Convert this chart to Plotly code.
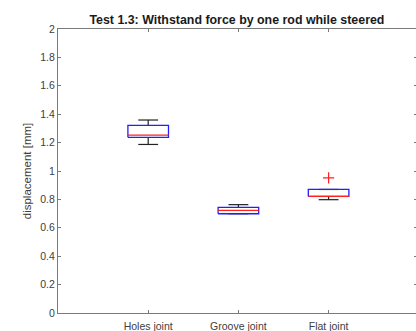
import plotly.graph_objects as go

# Joint types and their box statistics (displacement in mm)
categories = ["Holes joint", "Groove joint", "Flat joint"]
lower_whisker = [1.187, 0.699, 0.798]
q1 = [1.237, 0.699, 0.821]
median = [1.252, 0.723, 0.821]
q3 = [1.321, 0.744, 0.870]
upper_whisker = [1.359, 0.763, 0.870]
outlier_pos = [3]
outlier_val = [0.951]

y_ticks = [0, 0.2, 0.4, 0.6, 0.8, 1, 1.2, 1.4, 1.6, 1.8, 2]

BOX_HALF = 0.225
CAP_HALF = 0.11
AXIS_GRAY = "#7a7a7a"
TEXT_GRAY = "#404040"

fig = go.Figure()

for i in range(len(categories)):
    x = i + 1
    # whiskers (drawn first so the box sits on top)
    fig.add_trace(go.Scatter(
        x=[x, x, None, x, x],
        y=[q3[i], upper_whisker[i], None, lower_whisker[i], q1[i]],
        mode="lines", line=dict(color="#222222", width=1.2),
        hoverinfo="skip", showlegend=False))
    # whisker caps
    fig.add_trace(go.Scatter(
        x=[x - CAP_HALF, x + CAP_HALF, None, x - CAP_HALF, x + CAP_HALF],
        y=[upper_whisker[i], upper_whisker[i], None,
           lower_whisker[i], lower_whisker[i]],
        mode="lines", line=dict(color="#222222", width=1.2),
        hoverinfo="skip", showlegend=False))
    # box
    fig.add_trace(go.Scatter(
        x=[x - BOX_HALF, x + BOX_HALF, x + BOX_HALF, x - BOX_HALF, x - BOX_HALF],
        y=[q1[i], q1[i], q3[i], q3[i], q1[i]],
        mode="lines", line=dict(color="#1f1fff", width=1.3),
        hoverinfo="skip", showlegend=False))
    # median
    fig.add_trace(go.Scatter(
        x=[x - BOX_HALF, x + BOX_HALF],
        y=[median[i], median[i]],
        mode="lines", line=dict(color="#ff2020", width=1.3),
        hoverinfo="skip", showlegend=False))

# outliers
fig.add_trace(go.Scatter(
    x=outlier_pos, y=outlier_val, mode="markers",
    marker=dict(symbol="cross-thin", size=8,
                line=dict(color="#ff2020", width=1.2)),
    hoverinfo="skip", showlegend=False))

font_family = "Liberation Sans, Arial, sans-serif"

fig.update_layout(
    width=416, height=331,
    margin=dict(l=58, r=0, t=29, b=18),
    paper_bgcolor="white", plot_bgcolor="white",
    font=dict(family=font_family, size=10.5, color=TEXT_GRAY),
    title=dict(text="<b>Test 1.3: Withstand force by one rod while steered</b>",
               x=0.5695, xanchor="center", y=0.94, yanchor="middle",
               font=dict(size=12.4, color="#1a1a1a")),
    xaxis=dict(
        range=[0, 3.969],
        tickmode="array", tickvals=[1, 2, 3], ticktext=categories,
        ticks="inside", ticklen=3, tickcolor=AXIS_GRAY,
        ticklabelstandoff=3,
        showline=True, linecolor=AXIS_GRAY, linewidth=1,
        mirror="ticks", showgrid=False, zeroline=False,
    ),
    yaxis=dict(
        range=[0, 2],
        tickmode="array", tickvals=y_ticks,
        ticktext=[f"{v:g}" for v in y_ticks],
        ticks="inside", ticklen=3, tickcolor=AXIS_GRAY,
        showline=True, linecolor=AXIS_GRAY, linewidth=1,
        mirror=False, showgrid=False, zeroline=False,
        title=dict(text="displacement [mm]", standoff=6,
                   font=dict(size=11.5, color=TEXT_GRAY)),
    ),
    # right-hand tick marks (box outline style)
    yaxis2=dict(
        range=[0, 2], overlaying="y", side="right",
        tickmode="array", tickvals=y_ticks, showticklabels=False,
        ticks="inside", ticklen=2, tickcolor=AXIS_GRAY,
        showline=False, showgrid=False, zeroline=False,
    ),
)

fig.add_trace(go.Scatter(x=[None], y=[None], yaxis="y2",
                         showlegend=False, hoverinfo="skip"))

fig.write_html("out.html")
